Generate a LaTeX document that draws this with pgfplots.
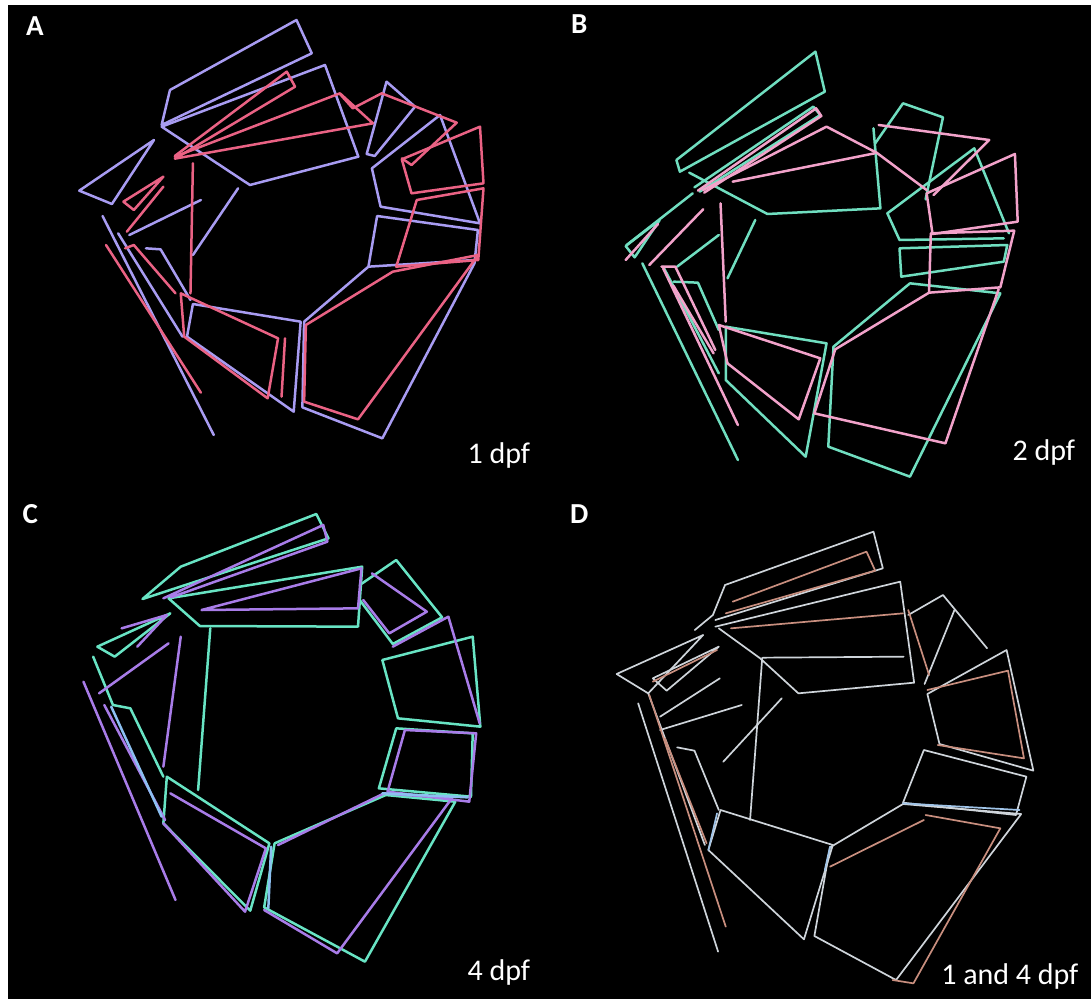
\documentclass[border=0pt]{standalone}
\usepackage{pgfplots}
\pgfplotsset{compat=1.18}
\usepackage{fontspec}
\setmainfont{Carlito}

\definecolor{lavA}{RGB}{168,156,242}
\definecolor{redA}{RGB}{234,98,132}
\definecolor{tealB}{RGB}{112,222,192}
\definecolor{pinkB}{RGB}{242,162,202}
\definecolor{tealC}{RGB}{104,228,196}
\definecolor{purC}{RGB}{168,124,232}
\definecolor{blueC}{RGB}{140,192,242}
\definecolor{greyD}{RGB}{206,212,218}
\definecolor{peachD}{RGB}{200,142,126}
\definecolor{blueD}{RGB}{160,196,232}

\pgfplotsset{
  panel/.style={scale only axis, width=272.5pt, height=250pt,
    xmin=0, xmax=1568, ymin=0, ymax=1500, y dir=reverse,
    hide axis, clip=false, anchor=north west,
    every axis plot/.append style={no markers, line join=round, line cap=round}},
  thick trace/.style={line width=1.25pt},
  thin trace/.style={line width=0.85pt},
}
\newcommand{\lbl}{\fontsize{14.5}{17}\selectfont}
\newcommand{\age}{\fontsize{15}{18}\selectfont}

\begin{document}
\begin{tikzpicture}
\fill[white] (0,0) rectangle (545.5pt,-499.5pt);
\fill[black] (4pt,-2.5pt) rectangle (545.5pt,-499.5pt);

% ---------------- A: 1 dpf ----------------
\begin{axis}[panel, at={(0pt,0pt)}]
% lavender outlines
\addplot[lavA, thick trace] coordinates {(489,270) (853,60) (897,160) (465,375) (489,270)};
\addplot[lavA, thick trace] coordinates {(465,380) (935,195) (1031,470) (719,555) (465,380)};
\addplot[lavA, thick trace] coordinates {(228,572) (443,420) (322,612) (228,572)};
\addplot[lavA, thick trace] coordinates {(295,648) (615,1305)};
\addplot[lavA, thick trace] coordinates {(555,765) (685,565)};
\addplot[lavA, thick trace] coordinates {(372,705) (578,600)};
\addplot[lavA, thick trace] coordinates {(420,745) (462,748) (548,900)};
\addplot[lavA, thick trace] coordinates {(340,700) (525,1010)};
\addplot[lavA, thick trace] coordinates {(555,912) (865,965) (845,1235) (538,1010) (555,912)};
\addplot[lavA, thick trace] coordinates {(875,965) (1060,800) (1365,780)};
\addplot[lavA, thick trace] coordinates {(1365,790) (1100,1315) (870,1222) (875,965)};
\addplot[lavA, thick trace] coordinates {(1060,800) (1085,648) (1375,690) (1365,790)};
\addplot[lavA, thick trace] coordinates {(1095,620) (1070,505) (1266,345) (1381,670) (1095,620)};
\addplot[lavA, thick trace] coordinates {(1112,245) (1194,320) (1078,468) (1055,462) (1112,245)};
% red outlines
\addplot[redA, thick trace] coordinates {(503,468) (825,215) (849,260) (510,472)};
\addplot[redA, thick trace] coordinates {(503,470) (978,280) (1073,370) (503,476)};
\addplot[redA, thick trace] coordinates {(978,282) (1015,325) (1098,280) (1314,368) (1184,495) (1156,475)};
\addplot[redA, thick trace] coordinates {(1156,478) (1381,380) (1391,550) (1184,580) (1156,478)};
\addplot[redA, thick trace] coordinates {(1199,600) (1391,565) (1376,780) (1140,800) (1199,600)};
\addplot[redA, thick trace] coordinates {(880,975) (1130,815) (1376,765) (1030,1258) (875,1205) (880,975)};
\addplot[redA, thick trace] coordinates {(520,880) (800,1015) (770,1195) (530,1010) (520,880)};
\addplot[redA, thick trace] coordinates {(820,1015) (810,1190)};
\addplot[redA, thick trace] coordinates {(555,490) (548,880)};
\addplot[redA, thick trace] coordinates {(355,605) (470,530) (385,630) (355,605)};
\addplot[redA, thick trace] coordinates {(470,560) (365,695)};
\addplot[redA, thick trace] coordinates {(305,735) (578,1178)};
\addplot[redA, thick trace] coordinates {(360,745) (385,735) (505,880)};
\node[white, anchor=base west, font=\lbl\bfseries] at (axis cs:55,106) {A};
\node[white, anchor=base east, font=\age] at (axis cs:1545,1390) {1 dpf};
\end{axis}

% ---------------- B: 2 dpf ----------------
\begin{axis}[panel, at={(272.5pt,0pt)}]
\addplot[tealB, thick trace] coordinates {(378,480) (778,155) (805,275) (388,515) (378,480)};
\addplot[tealB, thick trace] coordinates {(430,562) (772,320) (792,345) (445,575)};
\addplot[tealB, thick trace] coordinates {(415,518) (640,642) (965,625) (945,385)};
\addplot[tealB, thick trace] coordinates {(950,430) (1030,310) (1145,352) (1095,598)};
\addplot[tealB, thick trace] coordinates {(985,640) (1235,445) (1335,700)};
\addplot[tealB, thick trace] coordinates {(985,640) (1020,720) (1320,715)};
\addplot[tealB, thick trace] coordinates {(1020,745) (1330,735) (1320,785) (1025,830) (1020,745)};
\addplot[tealB, thick trace] coordinates {(1050,850) (830,1040) (815,1340) (1050,1430) (1310,880) (1050,850)};
\addplot[tealB, thick trace] coordinates {(520,980) (810,1030) (750,1370) (520,1140) (520,980)};
\addplot[tealB, thick trace] coordinates {(232,738) (330,660) (258,772) (232,738)};
\addplot[tealB, thick trace] coordinates {(235,735) (425,580)};
\addplot[tealB, thick trace] coordinates {(280,790) (555,1380)};
\addplot[tealB, thick trace] coordinates {(340,800) (500,1120)};
\addplot[tealB, thick trace] coordinates {(380,800) (500,705)};
\addplot[tealB, thick trace] coordinates {(525,835) (605,660)};
\addplot[tealB, thick trace] coordinates {(370,845) (440,848) (500,990)};
\addplot[pinkB, thick trace] coordinates {(440,572) (780,325) (795,348) (458,578)};
\addplot[pinkB, thick trace] coordinates {(455,570) (810,380) (948,455)};
\addplot[pinkB, thick trace] coordinates {(540,545) (948,460)};
\addplot[pinkB, thick trace] coordinates {(960,375) (1278,420) (1118,585)};
\addplot[pinkB, thick trace] coordinates {(950,455) (1098,570)};
\addplot[pinkB, thick trace] coordinates {(1098,580) (1352,462) (1360,665) (1115,702) (1098,580)};
\addplot[pinkB, thick trace] coordinates {(1110,700) (1350,692) (1310,862) (1105,878) (1110,700)};
\addplot[pinkB, thick trace] coordinates {(1105,878) (835,1048) (775,1240) (1152,1330) (1305,868)};
\addplot[pinkB, thick trace] coordinates {(500,975) (792,1075) (730,1258) (525,1090) (500,975)};
\addplot[pinkB, thick trace] coordinates {(340,805) (555,1275)};
\addplot[pinkB, thick trace] coordinates {(335,800) (375,800) (490,1050)};
\addplot[pinkB, thick trace] coordinates {(232,780) (325,672)};
\addplot[pinkB, thick trace] coordinates {(300,795) (455,628)};
\addplot[pinkB, thick trace] coordinates {(505,610) (520,965)};
\addplot[pinkB, thick trace] coordinates {(370,858) (485,1060)};
\node[white, anchor=base west, font=\lbl\bfseries] at (axis cs:55,102) {B};
\node[white, anchor=base east, font=\age] at (axis cs:1545,1380) {2 dpf};
\end{axis}

% ---------------- C: 4 dpf ----------------
\begin{axis}[panel, at={(0pt,-250pt)}]
\addplot[tealC, thick trace] coordinates {(410,297) (520,200) (910,42) (945,115) (410,297)};
\addplot[tealC, thick trace] coordinates {(485,295) (1042,200) (1030,380) (575,378) (485,295)};
\addplot[tealC, thick trace] coordinates {(1035,255) (1140,180) (1272,352) (1130,432) (1035,300)};
\addplot[tealC, thick trace] coordinates {(1100,480) (1360,410) (1382,680) (1145,655) (1100,480)};
\addplot[tealC, thick trace] coordinates {(1140,685) (1360,700) (1355,890) (1090,865) (1140,685)};
\addplot[tealC, thick trace] coordinates {(790,1030) (1110,885) (1310,905) (1050,1385) (760,1222) (790,1030)};
\addplot[tealC, thick trace] coordinates {(480,830) (775,1030) (720,1232) (470,970) (480,830)};
\addplot[tealC, thick trace] coordinates {(605,385) (570,870)};
\addplot[tealC, thick trace] coordinates {(280,440) (490,340) (330,470) (280,440)};
\addplot[tealC, thick trace] coordinates {(268,470) (325,615) (375,625) (470,830)};
\addplot[purC, thick trace] coordinates {(470,295) (930,75) (942,125) (492,292)};
\addplot[purC, thick trace] coordinates {(580,330) (1040,205) (1030,325) (580,330)};
\addplot[purC, thick trace] coordinates {(1070,220) (1228,335) (1120,400) (1045,300)};
\addplot[purC, thick trace] coordinates {(1130,440) (1290,350) (1380,670)};
\addplot[purC, thick trace] coordinates {(1165,690) (1370,700) (1350,905) (1115,875) (1165,690)};
\addplot[purC, thick trace] coordinates {(800,1035) (1105,880) (1300,895) (970,1360) (760,1230)};
\addplot[purC, thick trace] coordinates {(490,880) (765,1045) (705,1235) (470,970)};
\addplot[purC, thick trace] coordinates {(240,545) (505,1200)};
\addplot[purC, thick trace] coordinates {(300,615) (475,960)};
\addplot[purC, thick trace] coordinates {(520,410) (470,800)};
\addplot[purC, thick trace] coordinates {(485,430) (285,580)};
\addplot[purC, thick trace] coordinates {(350,385) (480,345) (395,440)};
\addplot[blueC, thick trace] coordinates {(320,620) (465,950)};
\addplot[blueC, thick trace] coordinates {(1100,880) (1345,892)};
\addplot[blueC, thick trace] coordinates {(780,1040) (772,1225)};
\node[white, anchor=base west, font=\lbl\bfseries] at (axis cs:45,70) {C};
\node[white, anchor=base east, font=\age] at (axis cs:1545,1442) {4 dpf};
\end{axis}

% ---------------- D: 1 and 4 dpf ----------------
\begin{axis}[panel, at={(272.5pt,-250pt)}]
\addplot[greyD, thin trace] coordinates {(431,390) (483,345) (518,255) (945,95) (972,205) (490,360)};
\addplot[greyD, thin trace] coordinates {(490,380) (1022,245) (1062,548) (729,580) (619,475) (500,385)};
\addplot[greyD, thin trace] coordinates {(628,473) (1032,470)};
\addplot[greyD, thin trace] coordinates {(625,473) (590,960)};
\addplot[greyD, thin trace] coordinates {(1045,345) (1145,285) (1272,445)};
\addplot[greyD, thin trace] coordinates {(1178,330) (1092,552)};
\addplot[greyD, thin trace] coordinates {(1100,582) (1328,450) (1405,812) (1135,732) (1100,582)};
\addplot[greyD, thin trace] coordinates {(1090,750) (1385,830) (1355,945) (1030,908) (1090,750)};
\addplot[greyD, thin trace] coordinates {(820,1042) (1030,912) (1370,942) (1010,1440) (775,1308) (820,1042)};
\addplot[greyD, thin trace] coordinates {(505,930) (828,1035) (745,1318) (470,1050) (505,930)};
\addplot[greyD, thin trace] coordinates {(268,610) (498,1355)};
\addplot[greyD, thin trace] coordinates {(206,522) (455,405) (297,580) (206,522)};
\addplot[greyD, thin trace] coordinates {(310,535) (500,440) (350,572) (310,535)};
\addplot[greyD, thin trace] coordinates {(331,690) (566,615)};
\addplot[greyD, thin trace] coordinates {(331,650) (503,535)};
\addplot[greyD, thin trace] coordinates {(513,785) (681,595)};
\addplot[greyD, thin trace] coordinates {(380,742) (430,752) (500,930)};
\addplot[greyD, thin trace] coordinates {(297,580) (460,1035)};
\addplot[peachD, thin trace] coordinates {(540,305) (925,155) (950,212) (520,340)};
\addplot[peachD, thin trace] coordinates {(535,385) (1030,340)};
\addplot[peachD, thin trace] coordinates {(1100,570) (1332,512) (1378,775) (1130,735)};
\addplot[peachD, thin trace] coordinates {(1045,330) (1105,525)};
\addplot[peachD, thin trace] coordinates {(1095,945) (1310,985) (1060,1450) (1000,1440)};
\addplot[peachD, thin trace] coordinates {(820,1100) (1090,960)};
\addplot[peachD, thin trace] coordinates {(300,585) (520,1280)};
\addplot[peachD, thin trace] coordinates {(345,715) (465,1030)};
\addplot[peachD, thin trace] coordinates {(310,545) (495,450)};
\addplot[blueD, thin trace] coordinates {(1030,910) (1365,930)};
\addplot[blueD, thin trace] coordinates {(820,1040) (805,1110)};
\addplot[blueD, thin trace] coordinates {(470,1050) (495,940)};
\node[white, anchor=base west, font=\lbl\bfseries] at (axis cs:52,70) {D};
\node[white, anchor=base east, font=\age] at (axis cs:1555,1452) {1 and 4 dpf};
\end{axis}
\end{tikzpicture}
\end{document}
